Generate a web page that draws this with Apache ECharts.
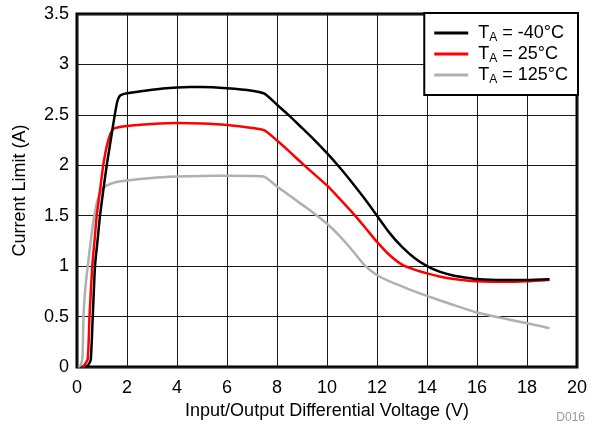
<!DOCTYPE html>
<html>
<head>
<meta charset="utf-8">
<script src="https://cdn.jsdelivr.net/npm/echarts@6/dist/echarts.min.js"></script>
<style>
html,body{margin:0;padding:0;background:#fff;}
#chart{width:613px;height:425px;}
</style>
</head>
<body>
<div id="chart"></div>
<script>
const seriesNames = ['TA = -40°C', 'TA = 25°C', 'TA = 125°C'];
const legendLabels = ['{m|T}{s|A}{m| = -40°C}', '{m|T}{s|A}{m| = 25°C}', '{m|T}{s|A}{m| = 125°C}'];
const xTicks = [0, 2, 4, 6, 8, 10, 12, 14, 16, 18, 20];
const yTicks = [0, 0.5, 1, 1.5, 2, 2.5, 3, 3.5];

const blackX = [0.35, 0.45, 0.55, 0.63, 0.72, 0.82, 0.92, 1.05, 1.19, 1.35, 1.51, 1.62, 1.72, 1.85, 2, 3, 4, 4.5, 5, 6, 7, 7.5, 8, 8.5, 9, 9.5, 10, 10.5, 11, 11.5, 12, 12.5, 13, 13.5, 14, 14.5, 15, 15.5, 16, 17, 18, 18.9];
const blackY = [0, 0.02, 0.07, 0.5, 1.0, 1.25, 1.5, 1.75, 2.0, 2.25, 2.5, 2.64, 2.69, 2.705, 2.715, 2.75, 2.772, 2.777, 2.777, 2.765, 2.74, 2.71, 2.6, 2.49, 2.37, 2.25, 2.12, 1.98, 1.83, 1.67, 1.5, 1.33, 1.19, 1.08, 1.0, 0.945, 0.91, 0.888, 0.872, 0.862, 0.862, 0.87];

const redX = [0.2, 0.3, 0.43, 0.5, 0.61, 0.7, 0.79, 0.92, 1.05, 1.2, 1.35, 1.48, 2, 3, 4, 5, 6, 7, 7.5, 8, 8.5, 9, 9.5, 10, 10.5, 11, 11.5, 12, 12.5, 13, 13.5, 14, 14.5, 15, 15.5, 16, 17, 18, 18.9];
const redY = [0, 0.02, 0.08, 0.5, 1.0, 1.25, 1.5, 1.75, 2.0, 2.2, 2.32, 2.365, 2.39, 2.41, 2.42, 2.415, 2.4, 2.37, 2.345, 2.245, 2.135, 2.02, 1.91, 1.8, 1.67, 1.535, 1.39, 1.24, 1.11, 1.015, 0.965, 0.928, 0.897, 0.875, 0.86, 0.85, 0.845, 0.85, 0.866];

const grayX = [0.05, 0.15, 0.22, 0.26, 0.34, 0.43, 0.55, 0.69, 0.85, 1.0, 1.2, 1.5, 2, 3, 4, 5, 6, 7, 7.5, 8, 8.5, 9, 9.5, 10, 10.5, 11, 11.5, 12, 12.5, 13, 13.5, 14, 15, 16, 17, 18, 18.9];
const grayY = [0, 0.02, 0.1, 0.5, 0.8, 1.0, 1.25, 1.5, 1.68, 1.76, 1.8, 1.83, 1.85, 1.875, 1.888, 1.895, 1.897, 1.893, 1.885, 1.79, 1.7, 1.61, 1.52, 1.42, 1.3, 1.16, 1.01, 0.91, 0.85, 0.8, 0.75, 0.705, 0.62, 0.54, 0.485, 0.434, 0.385];

const colors = ['#000000', '#ff0000', '#b0b0b0'];
const FONT = "'Liberation Sans', Arial, sans-serif";

function pairs(xs, ys) { return xs.map((x, i) => [x, ys[i]]); }

const chart = echarts.init(document.getElementById('chart'), null, {renderer: 'canvas'});
chart.setOption({
  animation: false,
  backgroundColor: '#fff',
  textStyle: {fontFamily: FONT, color: '#000'},
  grid: {left: 77, right: 36, top: 14, bottom: 58, show: true, borderColor: '#000', borderWidth: 3, backgroundColor: 'transparent'},
  xAxis: {
    type: 'value', min: xTicks[0], max: xTicks[xTicks.length - 1], interval: 2,
    name: 'Input/Output Differential Voltage (V)', nameLocation: 'middle', nameGap: 33,
    nameTextStyle: {fontSize: 18, fontFamily: FONT, color: '#000'},
    axisLine: {show: false}, axisTick: {show: false},
    axisLabel: {fontSize: 18, fontFamily: FONT, color: '#000', margin: 12},
    splitLine: {show: true, lineStyle: {color: '#1a1a1a', width: 1}}
  },
  yAxis: {
    type: 'value', min: yTicks[0], max: yTicks[yTicks.length - 1], interval: 0.5,
    name: 'Current Limit (A)', nameLocation: 'middle', nameGap: 48,
    nameTextStyle: {fontSize: 18, fontFamily: FONT, color: '#000'},
    axisLine: {show: false}, axisTick: {show: false},
    axisLabel: {fontSize: 18, fontFamily: FONT, color: '#000', margin: 8},
    splitLine: {show: true, lineStyle: {color: '#1a1a1a', width: 1}}
  },
  legend: {
    data: seriesNames,
    orient: 'vertical', right: 35, top: 13,
    backgroundColor: '#fff', borderColor: '#000', borderWidth: 2,
    padding: [9, 10, 9, 10], itemGap: -1,
    icon: 'rect', itemWidth: 34, itemHeight: 3,
    formatter: function (name) { return legendLabels[seriesNames.indexOf(name)]; },
    textStyle: {
      fontFamily: FONT, color: '#000', padding: [0, 0, 0, 5],
      rich: {
        m: {fontSize: 18, fontFamily: FONT, color: '#000', lineHeight: 22, verticalAlign: 'middle'},
        s: {fontSize: 12, fontFamily: FONT, color: '#000', lineHeight: 12, padding: [10, 0, 0, 0], verticalAlign: 'bottom'}
      }
    }
  },
  series: [
    {name: seriesNames[0], type: 'line', data: pairs(blackX, blackY), showSymbol: false, smooth: 0.2, lineStyle: {color: colors[0], width: 2.5}, itemStyle: {color: colors[0]}, z: 4},
    {name: seriesNames[1], type: 'line', data: pairs(redX, redY), showSymbol: false, smooth: 0.2, lineStyle: {color: colors[1], width: 2.5}, itemStyle: {color: colors[1]}, z: 3},
    {name: seriesNames[2], type: 'line', data: pairs(grayX, grayY), showSymbol: false, smooth: 0.2, lineStyle: {color: colors[2], width: 2.5}, itemStyle: {color: colors[2]}, z: 2}
  ],
  graphic: [
    {type: 'text', right: 28, top: 412, style: {text: 'D016', font: "12px 'Liberation Sans', Arial, sans-serif", fill: '#999'}}
  ]
});
</script>
</body>
</html>
